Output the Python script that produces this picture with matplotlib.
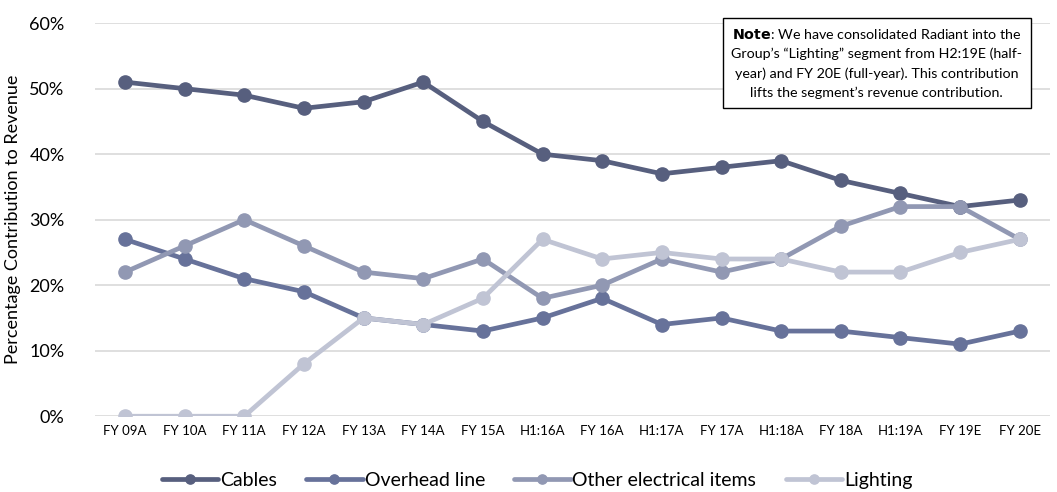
import matplotlib
matplotlib.use("Agg")
import matplotlib.pyplot as plt
from matplotlib.ticker import PercentFormatter

categories = ["FY 09A", "FY 10A", "FY 11A", "FY 12A", "FY 13A", "FY 14A", "FY 15A",
              "H1:16A", "FY 16A", "H1:17A", "FY 17A", "H1:18A", "FY 18A", "H1:19A",
              "FY 19E", "FY 20E"]
cables = [51, 50, 49, 47, 48, 51, 45, 40, 39, 37, 38, 39, 36, 34, 32, 33]
overhead = [27, 24, 21, 19, 15, 14, 13, 15, 18, 14, 15, 13, 13, 12, 11, 13]
other = [22, 26, 30, 26, 22, 21, 24, 18, 20, 24, 22, 24, 29, 32, 32, 27]
lighting = [0, 0, 0, 8, 15, 14, 18, 27, 24, 25, 24, 24, 22, 22, 25, 27]

series = [("Cables", cables, "#575f7e"),
          ("Overhead line", overhead, "#67729a"),
          ("Other electrical items", other, "#9198b3"),
          ("Lighting", lighting, "#c0c4d4")]

plt.rcParams['font.family'] = ['Lato', 'DejaVu Sans']

fig = plt.figure(figsize=(10.57, 4.92), dpi=100)
ax = fig.add_axes([0.09, 0.154, 0.903, 0.799])

x = list(range(len(categories)))
for name, vals, col in series:
    ax.plot(x, [v / 100 for v in vals], color=col, lw=3.4, marker="o", ms=9.5,
            label=name, solid_capstyle="round", zorder=3)

ax.set_xlim(-0.5, len(categories) - 0.5)
ax.set_ylim(0, 0.6)
ax.set_yticks([0, 0.1, 0.2, 0.3, 0.4, 0.5, 0.6])
ax.yaxis.set_major_formatter(PercentFormatter(1.0, decimals=0))
ax.set_xticks(x)
ax.set_xticklabels(categories, fontsize=9.5)
ax.tick_params(axis="y", labelsize=13, length=0, pad=22)
ax.tick_params(axis="x", length=0, pad=6)
ax.grid(axis="y", color="#d9d9d9", lw=1.2, zorder=0)
for s in ax.spines.values():
    s.set_visible(False)
ax.set_ylabel("Percentage Contribution to Revenue", fontsize=13, labelpad=6)

ax.legend(loc="center", bbox_to_anchor=(0.463, -0.163), ncol=4, frameon=False,
          fontsize=14, handlelength=2.9, handletextpad=0.1, columnspacing=1.5,
          markerscale=0.7)

fig.text(0.8295, 0.872,
         r"$\bf{Note}$: We have consolidated Radiant into the" "\n"
         "Group\u2019s \u201cLighting\u201d segment from H2:19E (half-\n"
         "year) and FY 20E (full-year). This contribution\n"
         "lifts the segment\u2019s revenue contribution.",
         ha="center", va="center", fontsize=10.3, linespacing=1.65,
         bbox=dict(boxstyle="square,pad=0.6", fc="white", ec="black", lw=1))

fig.savefig("out.png", dpi=100)
